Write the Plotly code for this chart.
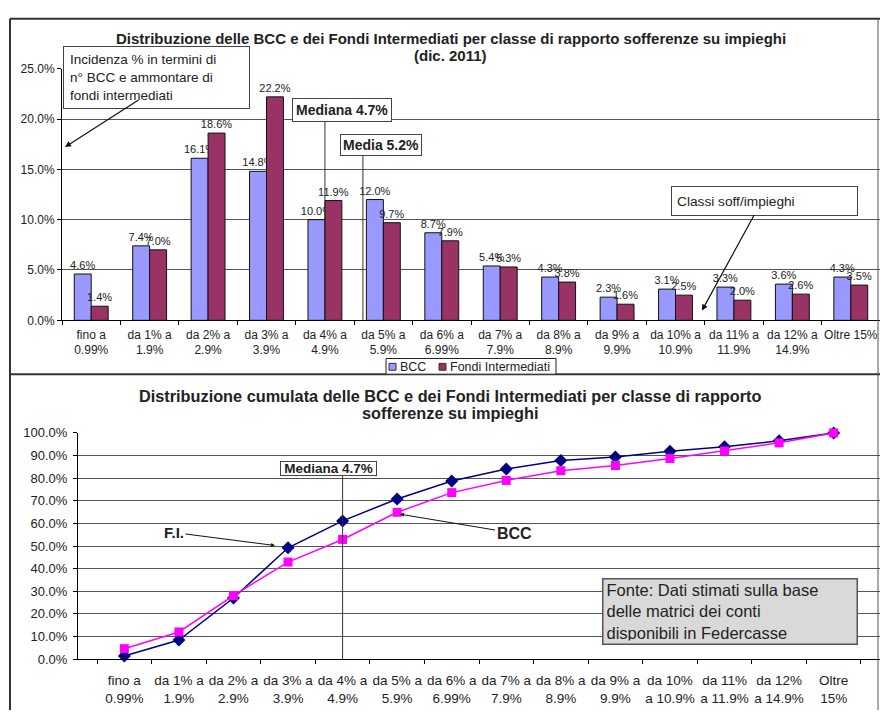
import plotly.graph_objects as go

W, H = 880, 718
def X(p): return p / W
def Y(p): return 1 - p / H

top_labels = ["fino a<br>0.99%", "da 1% a<br>1.9%", "da 2% a<br>2.9%", "da 3% a<br>3.9%",
              "da 4% a<br>4.9%", "da 5% a<br>5.9%", "da 6% a<br>6.99%", "da 7% a<br>7.9%",
              "da 8% a<br>8.9%", "da 9% a<br>9.9%", "da 10% a<br>10.9%", "da 11% a<br>11.9%",
              "da 12% a<br>14.9%", "Oltre 15%"]
bottom_labels = ["fino a<br>0.99%", "da 1% a<br>1.9%", "da 2% a<br>2.9%", "da 3% a<br>3.9%",
                 "da 4% a<br>4.9%", "da 5% a<br>5.9%", "da 6% a<br>6.99%", "da 7% a<br>7.9%",
                 "da 8% a<br>8.9%", "da 9% a<br>9.9%", "da 10%<br>a 10.9%", "da 11%<br>a 11.9%",
                 "da 12%<br>a 14.9%", "Oltre<br>15%"]

bcc_share = [4.6, 7.4, 16.1, 14.8, 10.0, 12.0, 8.7, 5.4, 4.3, 2.3, 3.1, 3.3, 3.6, 4.3]
fi_share = [1.4, 7.0, 18.6, 22.2, 11.9, 9.7, 7.9, 5.3, 3.8, 1.6, 2.5, 2.0, 2.6, 3.5]

bcc_cum = [4.6, 12.0, 28.1, 42.9, 52.9, 64.9, 73.6, 79.0, 83.3, 85.6, 88.7, 92.0, 95.6, 100.0]
fi_cum = [1.4, 8.4, 27.0, 49.2, 61.1, 70.8, 78.7, 84.0, 87.8, 89.4, 91.9, 93.9, 96.5, 100.0]

median_idx = 4      # class "da 4% a 4.9%"
mean_idx = 4.65

BCC_COLOR = "#9999FF"
FI_COLOR = "#993366"
FONT = "Arial, Liberation Sans, sans-serif"

fig = go.Figure()

fig.add_trace(go.Bar(
    x=top_labels, y=bcc_share, name="BCC", xaxis="x", yaxis="y", showlegend=False,
    marker=dict(color=BCC_COLOR, line=dict(color="#111", width=1)),
    texttemplate="%{y:.1f}%", textposition="outside", cliponaxis=False,
    constraintext="none", textfont=dict(size=11, color="#222", family=FONT)))
fig.add_trace(go.Bar(
    x=top_labels, y=fi_share, name="Fondi Intermediati", xaxis="x", yaxis="y", showlegend=False,
    marker=dict(color=FI_COLOR, line=dict(color="#111", width=1)),
    texttemplate="%{y:.1f}%", textposition="outside", cliponaxis=False,
    constraintext="none", textfont=dict(size=11, color="#222", family=FONT)))

fig.add_trace(go.Scatter(
    x=bottom_labels, y=fi_cum, name="F.I.", xaxis="x2", yaxis="y2", showlegend=False,
    mode="lines+markers", line=dict(color="#000080", width=1.5),
    marker=dict(symbol="diamond", size=10, color="#000080"), cliponaxis=False))
fig.add_trace(go.Scatter(
    x=bottom_labels, y=bcc_cum, name="BCC cum", xaxis="x2", yaxis="y2", showlegend=False,
    mode="lines+markers", line=dict(color="#FF00FF", width=1.5),
    marker=dict(symbol="square", size=9, color="#FF00FF"), cliponaxis=False))

axis_common = dict(showline=True, linecolor="#000", linewidth=1, ticks="outside",
                   tickcolor="#000", ticklen=4, zeroline=False)

fig.update_layout(
    width=W, height=H, margin=dict(l=0, r=0, t=0, b=0),
    paper_bgcolor="white", plot_bgcolor="white",
    font=dict(family=FONT, color="#222"),
    barmode="group", bargap=0.42, bargroupgap=0, showlegend=False,
    xaxis=dict(domain=[X(62), 1.0], anchor="y", type="category", tickson="boundaries",
               tickangle=0, tickfont=dict(size=12), ticklabelstandoff=3,
               showgrid=False, **axis_common),
    yaxis=dict(domain=[Y(320), Y(63)], anchor="x", range=[0, 25], dtick=5,
               tickformat=".1f", ticksuffix="%", tickfont=dict(size=12),
               showgrid=True, gridcolor="#555", gridwidth=1, **axis_common),
    xaxis2=dict(domain=[X(78), 1.0], anchor="y2", type="category", tickson="boundaries",
                tickangle=0, tickfont=dict(size=13.5), ticklabelstandoff=9,
                showgrid=False, **axis_common),
    yaxis2=dict(domain=[Y(666), Y(435)], anchor="x2", range=[0, 100], dtick=10,
                tickformat=".1f", ticksuffix="%", tickfont=dict(size=13), ticklabelstandoff=3,
                showgrid=True, gridcolor="#555", gridwidth=1, **axis_common),
)

shapes = []
# frames
frame = dict(type="line", xref="paper", yref="paper", line=dict(color="#333", width=2))
shapes.append(dict(frame, x0=X(10), x1=1.0, y0=Y(12), y1=Y(12)))
shapes.append(dict(frame, x0=X(10), x1=X(10), y0=Y(12), y1=0))
shapes.append(dict(frame, x0=X(10), x1=1.0, y0=Y(375), y1=Y(375)))
shapes.append(dict(frame, x0=X(878), x1=X(878), y0=Y(12), y1=0, line=dict(color="#555", width=1)))
# median / mean lines
shapes.append(dict(type="line", xref="x", yref="paper", x0=median_idx, x1=median_idx,
                   y0=Y(320), y1=Y(117), line=dict(color="#333", width=1)))
shapes.append(dict(type="line", xref="x", yref="paper", x0=mean_idx, x1=mean_idx,
                   y0=Y(320), y1=Y(152), line=dict(color="#333", width=1)))
shapes.append(dict(type="line", xref="x2", yref="paper", x0=median_idx, x1=median_idx,
                   y0=Y(666), y1=Y(478), line=dict(color="#333", width=1)))
# custom legend box
shapes.append(dict(type="rect", xref="paper", yref="paper", x0=X(386), x1=X(556),
                   y0=Y(375), y1=Y(359), line=dict(color="#222", width=1), fillcolor="white"))
shapes.append(dict(type="rect", xref="paper", yref="paper", x0=X(389), x1=X(396),
                   y0=Y(371), y1=Y(364), line=dict(color="#333", width=1), fillcolor=BCC_COLOR))
shapes.append(dict(type="rect", xref="paper", yref="paper", x0=X(439), x1=X(446),
                   y0=Y(371), y1=Y(364), line=dict(color="#333", width=1), fillcolor=FI_COLOR))
fig.update_layout(shapes=shapes)

ann = []
def txt(x, y, text, size, bold=False, **kw):
    d = dict(xref="paper", yref="paper", x=X(x), y=Y(y), xanchor="center", yanchor="middle",
             showarrow=False, text=f"<b>{text}</b>" if bold else text,
             font=dict(size=size, color="#222"))
    d.update(kw)
    ann.append(d)

txt(451, 32, "Distribuzione delle BCC e dei Fondi Intermediati per classe di rapporto sofferenze su impieghi", 15, True)
txt(451, 50, "(dic. 2011)", 15, True)
txt(450, 397, "Distribuzione cumulata delle BCC e dei Fondi Intermediati per classe di rapporto", 16.3, True)
txt(450, 415, "sofferenze su impieghi", 16.3, True)

# legend texts
txt(398, 367.5, "BCC", 12.5, xanchor="left")
txt(448, 367.5, "Fondi Intermediati", 12.5, xanchor="left")

# boxes
txt(156.5, 72.5, "Incidenza % in termini di<br>n° BCC e ammontare di<br>fondi intermediati", 13.5,
    align="left", valign="middle", bgcolor="white", bordercolor="#444",
    borderwidth=1, borderpad=6, width=173, height=49)
txt(341.5, 105, "Mediana 4.7%", 14, True, bgcolor="white", bordercolor="#444", borderwidth=1,
    borderpad=3)
txt(380.5, 141, "Media 5.2%", 14, True, bgcolor="white", bordercolor="#444", borderwidth=1,
    borderpad=2)
txt(764.5, 198, "Classi soff/impieghi", 13.7, align="left", bgcolor="white", bordercolor="#444",
    borderwidth=1, borderpad=5, width=175, height=18)
txt(328.5, 471, "Mediana 4.7%", 13.5, True, bgcolor="white", bordercolor="#444", borderwidth=1,
    borderpad=0, width=95, height=13)
txt(729.5, 617.5, "Fonte: Dati stimati sulla base<br>delle matrici dei conti<br>disponibili in Federcasse",
    16.5, align="left", bgcolor="#D9D9D9", bordercolor="#555", borderwidth=1.5, borderpad=3,
    width=247, height=58)

# arrows
arrow = dict(xref="paper", yref="paper", showarrow=True, text="", arrowhead=2, arrowsize=1,
             arrowwidth=1.2, arrowcolor="#111", axref="pixel", ayref="pixel")
ann.append(dict(arrow, x=X(65), y=Y(143), ax=75, ay=-48))
ann.append(dict(arrow, x=X(702), y=Y(310), ax=53, ay=-97))
ann.append(dict(xref="paper", yref="paper", x=X(275), y=Y(550), ax=-101, ay=-13,
                text="<b>F.I.</b>", font=dict(size=15, color="#222"), showarrow=True,
                arrowhead=2, arrowsize=0.8, arrowwidth=1, arrowcolor="#111"))
ann.append(dict(xref="paper", yref="paper", x=X(400), y=Y(518), ax=114, ay=19,
                text="<b>BCC</b>", font=dict(size=16, color="#222"), showarrow=True,
                arrowhead=2, arrowsize=0.8, arrowwidth=1, arrowcolor="#111"))
fig.update_layout(annotations=ann)

fig.write_html("out.html")
